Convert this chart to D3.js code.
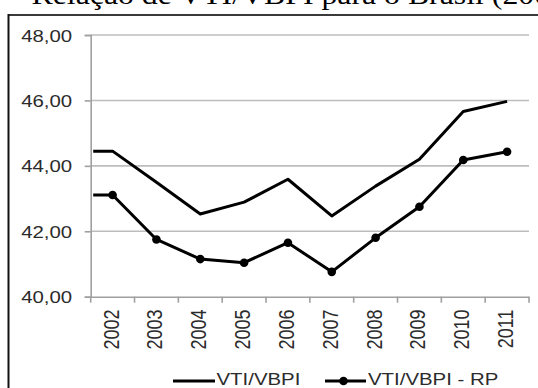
<!DOCTYPE html>
<html>
<head>
<meta charset="utf-8">
<script src="https://cdn.jsdelivr.net/npm/d3@7"></script>
<style>
html,body{margin:0;padding:0;background:#fff;}
svg{display:block;}
</style>
</head>
<body>
<svg id="chart" width="538" height="388"></svg>
<script>
const years = ["2002","2003","2004","2005","2006","2007","2008","2009","2010","2011"];
const vtiVbpi = [44.45, 43.50, 42.53, 42.89, 43.59, 42.47, 43.38, 44.20, 45.66, 45.97];
const vtiVbpiRp = [43.11, 41.75, 41.15, 41.04, 41.65, 40.76, 41.80, 42.75, 44.18, 44.43];
const yTicks = [40, 42, 44, 46, 48];
const seriesNames = ["VTI/VBPI", "VTI/VBPI - RP"];
const titleText = "Relação de VTI/VBPI para o Brasil (2002-2011)";

const svg = d3.select("#chart");
const SX = 1.2; // horizontal stretch of text in the reference
const fontSans = "'Liberation Sans', Arial, sans-serif";
const textColor = "#2b2b2b";

const x = d3.scaleBand().domain(years).range([90.7, 529]);
const y = d3.scaleLinear().domain([40, 48]).range([296.7, 35]);

// Title (cut off at top, as in the reference)
svg.append("text")
  .attr("transform", `translate(31.5,3.5) scale(${SX},1)`)
  .attr("font-family", "'Liberation Serif', 'Times New Roman', serif")
  .attr("font-size", 26.5)
  .attr("fill", "#000")
  .text(titleText);

// Frame
svg.append("line").attr("x1", 8).attr("x2", 538).attr("y1", 15).attr("y2", 15)
  .attr("stroke", "#3a3a3a").attr("stroke-width", 2);
svg.append("line").attr("x1", 8.5).attr("x2", 8.5).attr("y1", 14).attr("y2", 388)
  .attr("stroke", "#111").attr("stroke-width", 2);

// Gridlines
const grid = svg.append("g");
grid.selectAll("line").data(yTicks.filter(d => d > 40)).join("line")
  .attr("x1", x.range()[0]).attr("x2", x.range()[1])
  .attr("y1", d => y(d)).attr("y2", d => y(d))
  .attr("stroke", "#bdbdbd").attr("stroke-width", 1.6);

// Y axis
const yAxis = svg.append("g").attr("transform", `translate(${x.range()[0]},0)`)
  .call(d3.axisLeft(y).tickValues(yTicks).tickSize(6).tickPadding(0)
    .tickFormat(d => d3.format(".2f")(d).replace(".", ",")));
yAxis.select(".domain").attr("stroke", "#a0a0a0").attr("stroke-width", 1.6);
yAxis.selectAll(".tick line").attr("stroke", "#a0a0a0").attr("stroke-width", 1.6);
yAxis.selectAll(".tick text")
  .attr("x", null).attr("dy", null)
  .attr("transform", `translate(-18.5,6) scale(${SX},1)`)
  .attr("font-family", fontSans).attr("font-size", 17)
  .attr("fill", textColor);

// X axis
const xAxis = svg.append("g").attr("transform", `translate(0,${y(40)})`)
  .call(d3.axisBottom(x).tickSize(0).tickFormat(""));
xAxis.select(".domain").attr("stroke", "#a0a0a0").attr("stroke-width", 1.6);
const tickPos = years.map(d => x(d)).concat([x.range()[1]]);
xAxis.selectAll(".sep").data(tickPos).join("line").attr("class", "sep")
  .attr("x1", d => d).attr("x2", d => d).attr("y1", 0).attr("y2", 6)
  .attr("stroke", "#a0a0a0").attr("stroke-width", 1.6);
svg.append("g").selectAll("text").data(years).join("text")
  .attr("transform", d => `translate(${x(d) + x.bandwidth() / 2 + 6},309.5) scale(${SX},1) rotate(-90)`)
  .attr("text-anchor", "end")
  .attr("font-family", fontSans).attr("font-size", 18)
  .attr("fill", textColor)
  .text(d => d);

// Lines
const cx = d => x(d) + x.bandwidth() / 2;
function linePts(vals) {
  const pts = years.map((yr, i) => [cx(yr), y(vals[i])]);
  pts.unshift([x.range()[0] + 2.5, y(vals[0])]);
  return pts;
}
const line = d3.line();
svg.append("path").attr("d", line(linePts(vtiVbpi)))
  .attr("fill", "none").attr("stroke", "#000").attr("stroke-width", 3)
  .attr("stroke-linejoin", "round");
svg.append("path").attr("d", line(linePts(vtiVbpiRp)))
  .attr("fill", "none").attr("stroke", "#000").attr("stroke-width", 3)
  .attr("stroke-linejoin", "round");
svg.append("g").selectAll("circle").data(years).join("circle")
  .attr("cx", d => cx(d)).attr("cy", (d, i) => y(vtiVbpiRp[i]))
  .attr("r", 4.3).attr("fill", "#000");

// Legend
const legY = 381;
const leg = svg.append("g");
leg.append("line").attr("x1", 173).attr("x2", 215).attr("y1", legY).attr("y2", legY)
  .attr("stroke", "#000").attr("stroke-width", 3);
leg.append("text").attr("transform", `translate(216.5,385) scale(${SX},1)`)
  .attr("font-family", fontSans).attr("font-size", 17).attr("fill", textColor)
  .text(seriesNames[0]);
leg.append("line").attr("x1", 325).attr("x2", 366).attr("y1", legY).attr("y2", legY)
  .attr("stroke", "#000").attr("stroke-width", 3);
leg.append("circle").attr("cx", 343.5).attr("cy", legY).attr("r", 4.3).attr("fill", "#000");
leg.append("text").attr("transform", `translate(368,385) scale(${SX},1)`)
  .attr("font-family", fontSans).attr("font-size", 17).attr("fill", textColor)
  .text(seriesNames[1]);
</script>
</body>
</html>
